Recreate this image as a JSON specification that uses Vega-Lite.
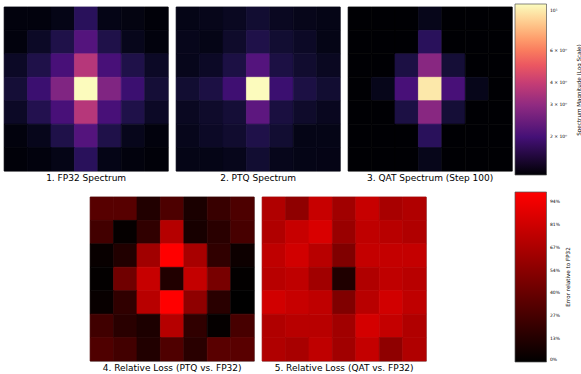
{
  "$schema": "https://vega.github.io/schema/vega-lite/v6.json",
  "padding": {"left": 3, "top": 4, "right": 0, "bottom": 0},
  "background": "white",
  "config": {
    "font": "DejaVu Sans",
    "view": {"stroke": "#888", "strokeWidth": 0.8},
    "rect": {"strokeWidth": 0.7},
    "title": {"fontSize": 9, "fontWeight": "normal", "color": "#000", "orient": "bottom", "offset": 2.5, "anchor": "middle"}
  },
  "datasets": {
    "spec": [
      {"p":"FP32","r":0,"c":0,"v":1.29},{"p":"FP32","r":0,"c":1,"v":1.29},{"p":"FP32","r":0,"c":2,"v":1.35},{"p":"FP32","r":0,"c":3,"v":1.75},{"p":"FP32","r":0,"c":4,"v":1.35},{"p":"FP32","r":0,"c":5,"v":1.32},{"p":"FP32","r":0,"c":6,"v":1.27},
      {"p":"FP32","r":1,"c":0,"v":1.29},{"p":"FP32","r":1,"c":1,"v":1.44},{"p":"FP32","r":1,"c":2,"v":1.64},{"p":"FP32","r":1,"c":3,"v":2.18},{"p":"FP32","r":1,"c":4,"v":1.64},{"p":"FP32","r":1,"c":5,"v":1.38},{"p":"FP32","r":1,"c":6,"v":1.29},
      {"p":"FP32","r":2,"c":0,"v":1.44},{"p":"FP32","r":2,"c":1,"v":1.64},{"p":"FP32","r":2,"c":2,"v":2.04},{"p":"FP32","r":2,"c":3,"v":3.67},{"p":"FP32","r":2,"c":4,"v":2.04},{"p":"FP32","r":2,"c":5,"v":1.64},{"p":"FP32","r":2,"c":6,"v":1.44},
      {"p":"FP32","r":3,"c":0,"v":1.54},{"p":"FP32","r":3,"c":1,"v":1.91},{"p":"FP32","r":3,"c":2,"v":2.77},{"p":"FP32","r":3,"c":3,"v":10.8},{"p":"FP32","r":3,"c":4,"v":2.77},{"p":"FP32","r":3,"c":5,"v":1.91},{"p":"FP32","r":3,"c":6,"v":1.54},
      {"p":"FP32","r":4,"c":0,"v":1.44},{"p":"FP32","r":4,"c":1,"v":1.68},{"p":"FP32","r":4,"c":2,"v":2.04},{"p":"FP32","r":4,"c":3,"v":3.67},{"p":"FP32","r":4,"c":4,"v":2.04},{"p":"FP32","r":4,"c":5,"v":1.64},{"p":"FP32","r":4,"c":6,"v":1.44},
      {"p":"FP32","r":5,"c":0,"v":1.29},{"p":"FP32","r":5,"c":1,"v":1.38},{"p":"FP32","r":5,"c":2,"v":1.64},{"p":"FP32","r":5,"c":3,"v":2.18},{"p":"FP32","r":5,"c":4,"v":1.64},{"p":"FP32","r":5,"c":5,"v":1.38},{"p":"FP32","r":5,"c":6,"v":1.29},
      {"p":"FP32","r":6,"c":0,"v":1.27},{"p":"FP32","r":6,"c":1,"v":1.29},{"p":"FP32","r":6,"c":2,"v":1.35},{"p":"FP32","r":6,"c":3,"v":1.75},{"p":"FP32","r":6,"c":4,"v":1.35},{"p":"FP32","r":6,"c":5,"v":1.29},{"p":"FP32","r":6,"c":6,"v":1.27},

      {"p":"PTQ","r":0,"c":0,"v":1.35},{"p":"PTQ","r":0,"c":1,"v":1.37},{"p":"PTQ","r":0,"c":2,"v":1.41},{"p":"PTQ","r":0,"c":3,"v":1.51},{"p":"PTQ","r":0,"c":4,"v":1.41},{"p":"PTQ","r":0,"c":5,"v":1.37},{"p":"PTQ","r":0,"c":6,"v":1.35},
      {"p":"PTQ","r":1,"c":0,"v":1.38},{"p":"PTQ","r":1,"c":1,"v":1.35},{"p":"PTQ","r":1,"c":2,"v":1.47},{"p":"PTQ","r":1,"c":3,"v":1.64},{"p":"PTQ","r":1,"c":4,"v":1.51},{"p":"PTQ","r":1,"c":5,"v":1.44},{"p":"PTQ","r":1,"c":6,"v":1.35},
      {"p":"PTQ","r":2,"c":0,"v":1.38},{"p":"PTQ","r":2,"c":1,"v":1.44},{"p":"PTQ","r":2,"c":2,"v":1.61},{"p":"PTQ","r":2,"c":3,"v":2.18},{"p":"PTQ","r":2,"c":4,"v":1.61},{"p":"PTQ","r":2,"c":5,"v":1.49},{"p":"PTQ","r":2,"c":6,"v":1.41},
      {"p":"PTQ","r":3,"c":0,"v":1.51},{"p":"PTQ","r":3,"c":1,"v":1.61},{"p":"PTQ","r":3,"c":2,"v":1.95},{"p":"PTQ","r":3,"c":3,"v":10.8},{"p":"PTQ","r":3,"c":4,"v":1.91},{"p":"PTQ","r":3,"c":5,"v":1.61},{"p":"PTQ","r":3,"c":6,"v":1.51},
      {"p":"PTQ","r":4,"c":0,"v":1.41},{"p":"PTQ","r":4,"c":1,"v":1.47},{"p":"PTQ","r":4,"c":2,"v":1.54},{"p":"PTQ","r":4,"c":3,"v":2.28},{"p":"PTQ","r":4,"c":4,"v":1.59},{"p":"PTQ","r":4,"c":5,"v":1.47},{"p":"PTQ","r":4,"c":6,"v":1.40},
      {"p":"PTQ","r":5,"c":0,"v":1.38},{"p":"PTQ","r":5,"c":1,"v":1.44},{"p":"PTQ","r":5,"c":2,"v":1.49},{"p":"PTQ","r":5,"c":3,"v":1.64},{"p":"PTQ","r":5,"c":4,"v":1.51},{"p":"PTQ","r":5,"c":5,"v":1.35},{"p":"PTQ","r":5,"c":6,"v":1.35},
      {"p":"PTQ","r":6,"c":0,"v":1.35},{"p":"PTQ","r":6,"c":1,"v":1.35},{"p":"PTQ","r":6,"c":2,"v":1.38},{"p":"PTQ","r":6,"c":3,"v":1.51},{"p":"PTQ","r":6,"c":4,"v":1.38},{"p":"PTQ","r":6,"c":5,"v":1.35},{"p":"PTQ","r":6,"c":6,"v":1.34},

      {"p":"QAT","r":0,"c":0,"v":1.2},{"p":"QAT","r":0,"c":1,"v":1.2},{"p":"QAT","r":0,"c":2,"v":1.2},{"p":"QAT","r":0,"c":3,"v":1.37},{"p":"QAT","r":0,"c":4,"v":1.2},{"p":"QAT","r":0,"c":5,"v":1.2},{"p":"QAT","r":0,"c":6,"v":1.2},
      {"p":"QAT","r":1,"c":0,"v":1.2},{"p":"QAT","r":1,"c":1,"v":1.2},{"p":"QAT","r":1,"c":2,"v":1.2},{"p":"QAT","r":1,"c":3,"v":1.75},{"p":"QAT","r":1,"c":4,"v":1.2},{"p":"QAT","r":1,"c":5,"v":1.2},{"p":"QAT","r":1,"c":6,"v":1.2},
      {"p":"QAT","r":2,"c":0,"v":1.2},{"p":"QAT","r":2,"c":1,"v":1.2},{"p":"QAT","r":2,"c":2,"v":1.61},{"p":"QAT","r":2,"c":3,"v":2.89},{"p":"QAT","r":2,"c":4,"v":1.54},{"p":"QAT","r":2,"c":5,"v":1.2},{"p":"QAT","r":2,"c":6,"v":1.2},
      {"p":"QAT","r":3,"c":0,"v":1.2},{"p":"QAT","r":3,"c":1,"v":1.37},{"p":"QAT","r":3,"c":2,"v":2.04},{"p":"QAT","r":3,"c":3,"v":9.9},{"p":"QAT","r":3,"c":4,"v":2.04},{"p":"QAT","r":3,"c":5,"v":1.37},{"p":"QAT","r":3,"c":6,"v":1.2},
      {"p":"QAT","r":4,"c":0,"v":1.2},{"p":"QAT","r":4,"c":1,"v":1.2},{"p":"QAT","r":4,"c":2,"v":1.61},{"p":"QAT","r":4,"c":3,"v":2.89},{"p":"QAT","r":4,"c":4,"v":1.54},{"p":"QAT","r":4,"c":5,"v":1.2},{"p":"QAT","r":4,"c":6,"v":1.2},
      {"p":"QAT","r":5,"c":0,"v":1.2},{"p":"QAT","r":5,"c":1,"v":1.2},{"p":"QAT","r":5,"c":2,"v":1.2},{"p":"QAT","r":5,"c":3,"v":1.75},{"p":"QAT","r":5,"c":4,"v":1.2},{"p":"QAT","r":5,"c":5,"v":1.2},{"p":"QAT","r":5,"c":6,"v":1.2},
      {"p":"QAT","r":6,"c":0,"v":1.2},{"p":"QAT","r":6,"c":1,"v":1.2},{"p":"QAT","r":6,"c":2,"v":1.2},{"p":"QAT","r":6,"c":3,"v":1.37},{"p":"QAT","r":6,"c":4,"v":1.2},{"p":"QAT","r":6,"c":5,"v":1.2},{"p":"QAT","r":6,"c":6,"v":1.2}
    ],
    "loss": [
      {"p":"PTQ","r":0,"c":0,"v":0.34},{"p":"PTQ","r":0,"c":1,"v":0.34},{"p":"PTQ","r":0,"c":2,"v":0.13},{"p":"PTQ","r":0,"c":3,"v":0.30},{"p":"PTQ","r":0,"c":4,"v":0.10},{"p":"PTQ","r":0,"c":5,"v":0.22},{"p":"PTQ","r":0,"c":6,"v":0.30},
      {"p":"PTQ","r":1,"c":0,"v":0.26},{"p":"PTQ","r":1,"c":1,"v":0.02},{"p":"PTQ","r":1,"c":2,"v":0.19},{"p":"PTQ","r":1,"c":3,"v":0.71},{"p":"PTQ","r":1,"c":4,"v":0.09},{"p":"PTQ","r":1,"c":5,"v":0.16},{"p":"PTQ","r":1,"c":6,"v":0.28},
      {"p":"PTQ","r":2,"c":0,"v":0.03},{"p":"PTQ","r":2,"c":1,"v":0.13},{"p":"PTQ","r":2,"c":2,"v":0.63},{"p":"PTQ","r":2,"c":3,"v":1.00},{"p":"PTQ","r":2,"c":4,"v":0.66},{"p":"PTQ","r":2,"c":5,"v":0.19},{"p":"PTQ","r":2,"c":6,"v":0.05},
      {"p":"PTQ","r":3,"c":0,"v":0.01},{"p":"PTQ","r":3,"c":1,"v":0.44},{"p":"PTQ","r":3,"c":2,"v":0.78},{"p":"PTQ","r":3,"c":3,"v":0.13},{"p":"PTQ","r":3,"c":4,"v":0.77},{"p":"PTQ","r":3,"c":5,"v":0.47},{"p":"PTQ","r":3,"c":6,"v":0.01},
      {"p":"PTQ","r":4,"c":0,"v":0.03},{"p":"PTQ","r":4,"c":1,"v":0.19},{"p":"PTQ","r":4,"c":2,"v":0.72},{"p":"PTQ","r":4,"c":3,"v":1.00},{"p":"PTQ","r":4,"c":4,"v":0.56},{"p":"PTQ","r":4,"c":5,"v":0.16},{"p":"PTQ","r":4,"c":6,"v":0.00},
      {"p":"PTQ","r":5,"c":0,"v":0.25},{"p":"PTQ","r":5,"c":1,"v":0.16},{"p":"PTQ","r":5,"c":2,"v":0.11},{"p":"PTQ","r":5,"c":3,"v":0.71},{"p":"PTQ","r":5,"c":4,"v":0.19},{"p":"PTQ","r":5,"c":5,"v":0.02},{"p":"PTQ","r":5,"c":6,"v":0.28},
      {"p":"PTQ","r":6,"c":0,"v":0.31},{"p":"PTQ","r":6,"c":1,"v":0.26},{"p":"PTQ","r":6,"c":2,"v":0.13},{"p":"PTQ","r":6,"c":3,"v":0.31},{"p":"PTQ","r":6,"c":4,"v":0.16},{"p":"PTQ","r":6,"c":5,"v":0.35},{"p":"PTQ","r":6,"c":6,"v":0.35},

      {"p":"QAT","r":0,"c":0,"v":0.69},{"p":"QAT","r":0,"c":1,"v":0.56},{"p":"QAT","r":0,"c":2,"v":0.78},{"p":"QAT","r":0,"c":3,"v":0.63},{"p":"QAT","r":0,"c":4,"v":0.78},{"p":"QAT","r":0,"c":5,"v":0.66},{"p":"QAT","r":0,"c":6,"v":0.69},
      {"p":"QAT","r":1,"c":0,"v":0.69},{"p":"QAT","r":1,"c":1,"v":0.78},{"p":"QAT","r":1,"c":2,"v":0.85},{"p":"QAT","r":1,"c":3,"v":0.60},{"p":"QAT","r":1,"c":4,"v":0.75},{"p":"QAT","r":1,"c":5,"v":0.72},{"p":"QAT","r":1,"c":6,"v":0.69},
      {"p":"QAT","r":2,"c":0,"v":0.75},{"p":"QAT","r":2,"c":1,"v":0.82},{"p":"QAT","r":2,"c":2,"v":0.72},{"p":"QAT","r":2,"c":3,"v":0.50},{"p":"QAT","r":2,"c":4,"v":0.77},{"p":"QAT","r":2,"c":5,"v":0.77},{"p":"QAT","r":2,"c":6,"v":0.77},
      {"p":"QAT","r":3,"c":0,"v":0.72},{"p":"QAT","r":3,"c":1,"v":0.75},{"p":"QAT","r":3,"c":2,"v":0.63},{"p":"QAT","r":3,"c":3,"v":0.12},{"p":"QAT","r":3,"c":4,"v":0.69},{"p":"QAT","r":3,"c":5,"v":0.75},{"p":"QAT","r":3,"c":6,"v":0.72},
      {"p":"QAT","r":4,"c":0,"v":0.82},{"p":"QAT","r":4,"c":1,"v":0.78},{"p":"QAT","r":4,"c":2,"v":0.75},{"p":"QAT","r":4,"c":3,"v":0.50},{"p":"QAT","r":4,"c":4,"v":0.72},{"p":"QAT","r":4,"c":5,"v":0.82},{"p":"QAT","r":4,"c":6,"v":0.75},
      {"p":"QAT","r":5,"c":0,"v":0.69},{"p":"QAT","r":5,"c":1,"v":0.72},{"p":"QAT","r":5,"c":2,"v":0.72},{"p":"QAT","r":5,"c":3,"v":0.63},{"p":"QAT","r":5,"c":4,"v":0.83},{"p":"QAT","r":5,"c":5,"v":0.77},{"p":"QAT","r":5,"c":6,"v":0.69},
      {"p":"QAT","r":6,"c":0,"v":0.69},{"p":"QAT","r":6,"c":1,"v":0.66},{"p":"QAT","r":6,"c":2,"v":0.75},{"p":"QAT","r":6,"c":3,"v":0.63},{"p":"QAT","r":6,"c":4,"v":0.77},{"p":"QAT","r":6,"c":5,"v":0.56},{"p":"QAT","r":6,"c":6,"v":0.69}
    ]
  },
  "spacing": 12,
  "center": true,
  "resolve": {"scale": {"stroke": "independent"}},
  "vconcat": [
    {
      "spacing": 6,
      "hconcat": [
        {
          "width": 164, "height": 164,
          "data": {"name": "spec"},
          "transform": [{"filter": "datum.p === 'FP32'"}],
          "title": {"text": "1. FP32 Spectrum"},
          "mark": {"type": "rect"},
          "encoding": {
            "x": {"field": "c", "type": "ordinal", "axis": null, "scale": {"paddingInner": 0, "paddingOuter": 0}},
            "y": {"field": "r", "type": "ordinal", "axis": null, "scale": {"paddingInner": 0, "paddingOuter": 0}},
            "color": {"field": "v", "type": "quantitative",
              "scale": {"type": "log", "scheme": "magma", "domain": [1.238, 10.89], "clamp": true},
              "legend": {"title": "Spectrum Magnitude (Log Scale)", "orient": "none", "legendX": 511, "legendY": -3, "direction": "vertical",
                "gradientLength": 171, "gradientThickness": 31.5, "gradientStrokeColor": "#555", "gradientStrokeWidth": 0.7,
                "values": [2, 3, 4, 6, 10], "labelExpr": "datum.value >= 10 ? '10¹' : datum.value + ' × 10⁰'",
                "labelFontSize": 4.5, "labelOffset": 3.5, "labelOverlap": false, "labelColor": "#000",
                "titleOrient": "right", "titleFontSize": 5.6, "titleFontWeight": "normal", "titlePadding": 10, "titleColor": "#000",
                "encode": {"title": {"update": {"angle": {"value": -90}, "baseline": {"value": "top"}}}}}
            },
            "stroke": {"field": "v", "type": "quantitative", "scale": {"type": "log", "scheme": "magma", "domain": [1.238, 10.89], "clamp": true}, "legend": null}
          }
        },
        {
          "width": 164, "height": 164,
          "data": {"name": "spec"},
          "transform": [{"filter": "datum.p === 'PTQ'"}],
          "title": {"text": "2. PTQ Spectrum"},
          "mark": {"type": "rect"},
          "encoding": {
            "x": {"field": "c", "type": "ordinal", "axis": null, "scale": {"paddingInner": 0, "paddingOuter": 0}},
            "y": {"field": "r", "type": "ordinal", "axis": null, "scale": {"paddingInner": 0, "paddingOuter": 0}},
            "color": {"field": "v", "type": "quantitative"},
            "stroke": {"field": "v", "type": "quantitative", "legend": null}
          }
        },
        {
          "width": 164, "height": 164,
          "data": {"name": "spec"},
          "transform": [{"filter": "datum.p === 'QAT'"}],
          "title": {"text": "3. QAT  Spectrum (Step 100)"},
          "mark": {"type": "rect"},
          "encoding": {
            "x": {"field": "c", "type": "ordinal", "axis": null, "scale": {"paddingInner": 0, "paddingOuter": 0}},
            "y": {"field": "r", "type": "ordinal", "axis": null, "scale": {"paddingInner": 0, "paddingOuter": 0}},
            "color": {"field": "v", "type": "quantitative"},
            "stroke": {"field": "v", "type": "quantitative", "legend": null}
          }
        }
      ]
    },
    {
      "spacing": 6,
      "hconcat": [
        {
          "width": 164, "height": 164,
          "data": {"name": "loss"},
          "transform": [{"filter": "datum.p === 'PTQ'"}],
          "title": {"text": "4. Relative Loss (PTQ vs. FP32)"},
          "mark": {"type": "rect"},
          "encoding": {
            "x": {"field": "c", "type": "ordinal", "axis": null, "scale": {"paddingInner": 0, "paddingOuter": 0}},
            "y": {"field": "r", "type": "ordinal", "axis": null, "scale": {"paddingInner": 0, "paddingOuter": 0}},
            "fill": {"field": "v", "type": "quantitative",
              "scale": {"type": "linear", "domain": [0, 1.0], "range": ["#000000", "#ff0000"], "interpolate": "rgb", "clamp": true},
              "legend": {"title": "Error relative to FP32", "orient": "none", "legendX": 511, "legendY": 185, "direction": "vertical",
                "gradientLength": 170, "gradientThickness": 31.5, "gradientStrokeColor": "#555", "gradientStrokeWidth": 0.7,
                "values": [0, 0.1345, 0.269, 0.4035, 0.538, 0.6725, 0.807, 0.9415], "format": ".0%",
                "labelFontSize": 4.5, "labelOffset": 3.5, "labelOverlap": false, "labelColor": "#000",
                "titleOrient": "right", "titleFontSize": 5.6, "titleFontWeight": "normal", "titlePadding": 6, "titleColor": "#000",
                "encode": {"title": {"update": {"angle": {"value": -90}, "baseline": {"value": "top"}}}}}
            },
            "stroke": {"field": "v", "type": "quantitative", "scale": {"type": "linear", "domain": [0, 1.0], "range": ["#000000", "#ff0000"], "interpolate": "rgb", "clamp": true}, "legend": null}
          }
        },
        {
          "width": 164, "height": 164,
          "data": {"name": "loss"},
          "transform": [{"filter": "datum.p === 'QAT'"}],
          "title": {"text": "5. Relative Loss (QAT vs. FP32)"},
          "mark": {"type": "rect"},
          "encoding": {
            "x": {"field": "c", "type": "ordinal", "axis": null, "scale": {"paddingInner": 0, "paddingOuter": 0}},
            "y": {"field": "r", "type": "ordinal", "axis": null, "scale": {"paddingInner": 0, "paddingOuter": 0}},
            "fill": {"field": "v", "type": "quantitative"},
            "stroke": {"field": "v", "type": "quantitative", "legend": null}
          }
        }
      ]
    }
  ]
}
